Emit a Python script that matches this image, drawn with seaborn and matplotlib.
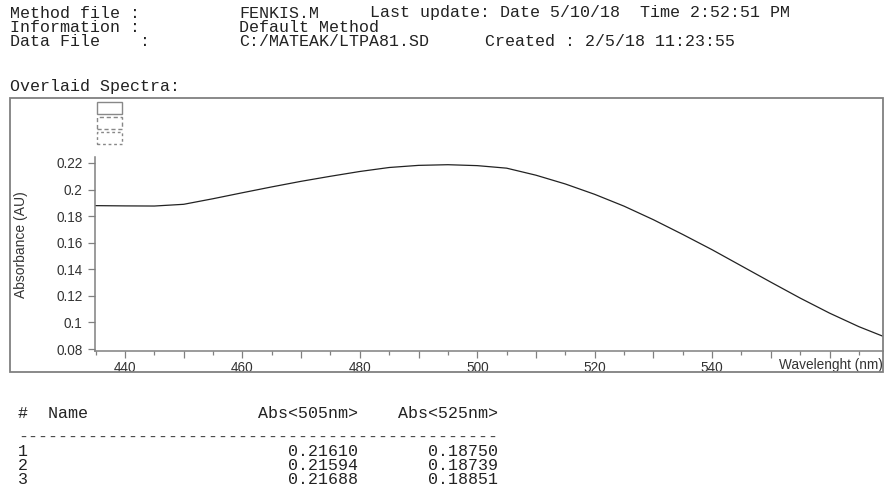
import matplotlib
matplotlib.use("Agg")
import matplotlib.pyplot as plt
from matplotlib.patches import Rectangle
from matplotlib.ticker import MultipleLocator, FuncFormatter
import pandas as pd
import seaborn as sns

# spectrum (nm, AU)
wavelength = [435, 440, 445, 450, 455, 460, 465, 470, 475, 480, 485, 490, 495,
              500, 505, 510, 515, 520, 525, 530, 535, 540, 545, 550, 555, 560,
              565, 570]
absorbance = [0.1879, 0.1877, 0.1876, 0.1889, 0.1931, 0.1976, 0.2020, 0.2062,
              0.2100, 0.2136, 0.2166, 0.2182, 0.2187, 0.2180, 0.2161, 0.2108,
              0.2042, 0.1964, 0.1875, 0.1773, 0.1662, 0.1547, 0.1425, 0.1303,
              0.1183, 0.1070, 0.0968, 0.0880]

header_labels = ["Method file :", "Information :", "Data File    :"]
header_values = ["FENKIS.M", "Default Method", "C:/MATEAK/LTPA81.SD"]
sample_ids = ["1", "2", "3"]
abs_505 = ["0.21610", "0.21594", "0.21688"]
abs_525 = ["0.18750", "0.18739", "0.18851"]
x_labelled = [440, 460, 480, 500, 520, 540]

W, H = 886, 497
sns.set_style("white")
plt.rcParams['font.family'] = ['Liberation Sans', 'DejaVu Sans']
mono = ['Liberation Mono', 'DejaVu Sans Mono']


def fx(x):
    return x / W


def fy(y):
    return 1 - y / H


fig = plt.figure(figsize=(W / 100, H / 100), dpi=100)

# header block
for i, (lab, val) in enumerate(zip(header_labels, header_values)):
    y = 13 + i * 14.5
    fig.text(fx(10), fy(y), lab, family=mono, fontsize=12, va='center', color='#222')
    fig.text(fx(239), fy(y), val, family=mono, fontsize=12, va='center', color='#222')
fig.text(fx(370), fy(13), "Last update: Date 5/10/18  Time 2:52:51 PM",
         family=mono, fontsize=12, va='center', color='#222')
fig.text(fx(485), fy(42), "Created : 2/5/18 11:23:55",
         family=mono, fontsize=12, va='center', color='#222')
fig.text(fx(10), fy(87), "Overlaid Spectra:", family=mono, fontsize=12,
         va='center', color='#222')

# outer frame
fig.add_artist(Rectangle((fx(10), fy(372)), fx(873), 274 / H, transform=fig.transFigure,
                         fill=False, edgecolor='#808080', lw=1.3))
# empty legend boxes
for (y0, ls) in [(102, '-'), (117, (0, (3, 2))), (132, (0, (2, 2)))]:
    fig.add_artist(Rectangle((fx(97), fy(y0 + 12)), fx(25), 12 / H, transform=fig.transFigure,
                             fill=False, edgecolor='#888888', lw=1.0, linestyle=ls))

ax = fig.add_axes([fx(95), fy(351), fx(788), 194 / H])
df = pd.DataFrame({'wl': wavelength, 'abs': absorbance})
sns.lineplot(data=df, x='wl', y='abs', ax=ax, color='#222222', lw=0.9)

ax.set_xlim(434.9, 569.1)
ax.set_ylim(0.0785, 0.2245)
ax.yaxis.set_major_locator(MultipleLocator(0.02))
ax.yaxis.set_major_formatter(FuncFormatter(lambda v, p: f"{v:.2f}".rstrip('0').rstrip('.')))
ax.xaxis.set_major_locator(MultipleLocator(10))
ax.xaxis.set_minor_locator(MultipleLocator(5))
ax.xaxis.set_major_formatter(FuncFormatter(
    lambda v, p: f"{int(round(v))}" if int(round(v)) in x_labelled else ""))
ax.tick_params(axis='both', which='major', direction='out', length=5, width=0.9,
               color='#808080', labelsize=9.8, labelcolor='#333333')
ax.tick_params(axis='x', which='minor', direction='out', length=3, width=0.9, color='#808080')
ax.tick_params(axis='x', pad=2)
ax.tick_params(axis='y', pad=4)
ax.tick_params(bottom=True, left=True, which='both')
ax.tick_params(axis='y', which='minor', left=False)

for side in ['top', 'right']:
    ax.spines[side].set_visible(False)
for side in ['left', 'bottom']:
    ax.spines[side].set_color('#808080')
    ax.spines[side].set_linewidth(1.1)

ax.set_xlabel("")
ax.set_ylabel("Absorbance (AU)", fontsize=10, color='#333333')
ax.yaxis.set_label_coords(-0.085, 0.55)
ax.text(1.0, -0.072, "Wavelenght (nm)", transform=ax.transAxes, ha='right', va='center',
        fontsize=9.8, color='#333333')

# results table
x0 = 18
fig.text(fx(x0), fy(413), "#  Name" + " " * 17 + "Abs<505nm>    Abs<525nm>",
         family=mono, fontsize=12, va='center', color='#222')
fig.text(fx(x0), fy(437), "-" * 48, family=mono, fontsize=12, va='center', color='#444')
for i, (sid, a, b) in enumerate(zip(sample_ids, abs_505, abs_525)):
    line = f"{sid:<27}{a}{b:>14}"
    fig.text(fx(x0), fy(452 + i * 14), line, family=mono, fontsize=12, va='center', color='#222')

fig.savefig("out.png", dpi=100)
